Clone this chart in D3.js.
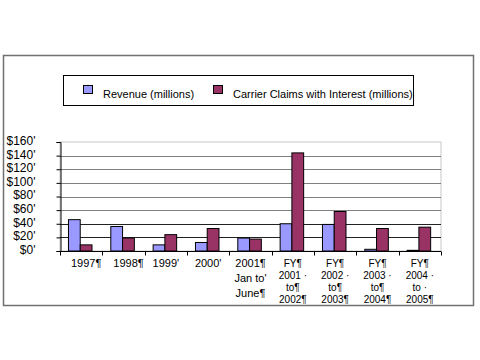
<!DOCTYPE html>
<html><head><meta charset="utf-8">
<script src="https://cdn.jsdelivr.net/npm/d3@7"></script>
<style>body{margin:0;background:#fff}svg{display:block;font-family:"Liberation Sans",Arial,sans-serif}</style>
</head><body><svg id="c" width="480" height="360"></svg>
<script>
const categories = [
  ["1997¶"], ["1998¶"], ["1999'"], ["2000'"],
  ["2001¶", "Jan to'", "June¶"],
  ["FY¶", "2001 ·", "to¶", "2002¶"],
  ["FY¶", "2002 ·", "to¶", "2003¶"],
  ["FY¶", "2003 ·", "to¶", "2004¶"],
  ["FY¶", "2004 ·", "to ·", "2005¶"]
];
const revenue = [46, 36, 9, 12.5, 19, 40, 39, 2.5, 1];
const claims  = [9, 19, 24, 33, 17.5, 144, 58, 33, 35];
const seriesNames = ["Revenue (millions)", "Carrier Claims with Interest (millions)"];
const seriesColors = ["#9999FF", "#993366"];
const yTicks = [0, 20, 40, 60, 80, 100, 120, 140, 160];
const yTickLabels = ["$0'", "$20'", "$40'", "$60'", "$80'", "$100'", "$120'", "$140'", "$160'"];

const svg = d3.select("#c");
const L = 60, R = 441, T = 142, B = 251;
const keys = categories.map((d, i) => i);
const x = d3.scaleBand().domain(keys).range([L, R]).padding(0);
const x1 = d3.scaleBand().domain([0, 1]).range([0, x.bandwidth()]).paddingInner(0).paddingOuter(0.8).align(0.45);
const y = d3.scaleLinear().domain([0, 160]).range([B, T]);

// outer frame
svg.append("rect").attr("x", 3.5).attr("y", 55.5).attr("width", 470).attr("height", 250)
  .attr("fill", "#fff").attr("stroke", "#707070").attr("stroke-width", 1.5);

// plot border
svg.append("rect").attr("x", L).attr("y", T).attr("width", R - L).attr("height", B - T)
  .attr("fill", "none").attr("stroke", "#c8c8c8").attr("stroke-width", 1);

// gridlines
svg.append("g").selectAll("line").data(yTicks.filter(v => v > 0 && v < 160)).join("line")
  .attr("x1", L).attr("x2", R).attr("y1", d => Math.round(y(d)) + 0.5).attr("y2", d => Math.round(y(d)) + 0.5)
  .attr("stroke", d => d <= 40 ? "#222" : "#808080").attr("stroke-width", 1);

// bars
const seriesVals = [revenue, claims];
const g = svg.append("g");
seriesVals.forEach((vals, s) => {
  g.selectAll(null).data(vals).join("rect")
    .attr("x", (d, i) => x(i) + x1(s))
    .attr("y", d => y(d))
    .attr("width", x1.bandwidth())
    .attr("height", d => B - y(d))
    .attr("fill", seriesColors[s]).attr("stroke", "#000").attr("stroke-width", 1);
});

// y axis
const ya = svg.append("g").attr("transform", `translate(${L + 0.5},0)`)
  .call(d3.axisLeft(y).tickValues(yTicks).tickSize(4).tickFormat((d, i) => yTickLabels[i]));
ya.select(".domain").attr("stroke", "#000");
ya.selectAll(".tick line").attr("stroke", "#000");
ya.selectAll(".tick text").attr("x", -25).attr("dy", "0.2em").attr("font-size", 12)
  .attr("font-family", "Liberation Sans, Arial, sans-serif").attr("fill", "#000");

// x axis
const xa = svg.append("g").attr("transform", `translate(0,${B + 0.5})`);
xa.append("line").attr("x1", L).attr("x2", R).attr("stroke", "#000");
xa.selectAll(".tk").data(keys.concat([keys.length])).join("line").attr("class", "tk")
  .attr("x1", d => Math.round(d < keys.length ? x(d) : R) + 0.5)
  .attr("x2", d => Math.round(d < keys.length ? x(d) : R) + 0.5)
  .attr("y1", 0).attr("y2", 4).attr("stroke", "#000");

// x labels
categories.forEach((lines, i) => {
  const cx = x(i) + x.bandwidth() / 2 + (i < 2 ? 5 : 0);
  const fy = lines[0] === "FY¶";
  const fs = fy ? 10 : 11;
  const lh = fy ? 12.3 : (lines.length > 1 ? 15 : 14);
  const t = svg.append("text").attr("text-anchor", "middle").attr("font-size", fs).attr("fill", "#000");
  lines.forEach((ln, j) => {
    t.append("tspan").attr("x", cx).attr("y", (fy ? 266.5 : 267) + j * lh).text(ln);
  });
});

// legend
svg.append("rect").attr("x", 63.5).attr("y", 75.5).attr("width", 350).attr("height", 30)
  .attr("fill", "#fff").attr("stroke", "#000").attr("stroke-width", 1);
const legX = [83, 213], legTX = [103, 233];
seriesNames.forEach((n, s) => {
  svg.append("rect").attr("x", legX[s] + 0.5).attr("y", 85.5).attr("width", 9).attr("height", 8)
    .attr("fill", seriesColors[s]).attr("stroke", "#000");
  svg.append("text").attr("x", legTX[s]).attr("y", 97.5).attr("font-size", 11).attr("fill", "#000").text(n);
});
</script></body></html>
